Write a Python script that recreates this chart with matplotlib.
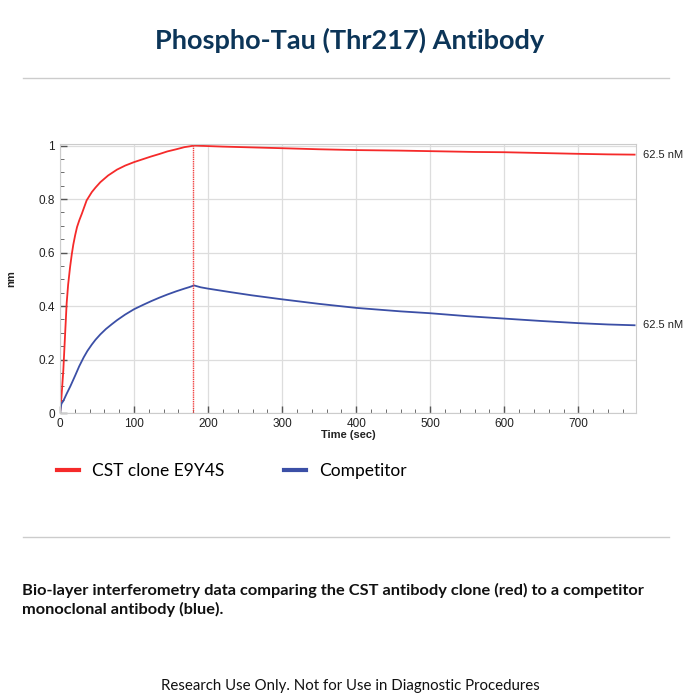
import matplotlib.pyplot as plt
from matplotlib.lines import Line2D
from matplotlib.ticker import MultipleLocator

# values (time in sec, response in nm)
red_time = [0, 2, 4.5, 7, 9, 11, 13.6, 16, 18, 20.5, 23, 26, 29.5, 33, 36, 43, 48, 54.5, 65,
            77, 88, 100, 112, 123, 135, 145, 157, 168, 175, 181, 190, 220, 260, 300, 350, 400,
            460, 500, 560, 600, 650, 700, 740, 776]
red_nm = [0, 0.06, 0.16, 0.30, 0.41, 0.48, 0.545, 0.595, 0.63, 0.665, 0.695, 0.72, 0.745,
          0.772, 0.795, 0.826, 0.843, 0.863, 0.888, 0.91, 0.925, 0.938, 0.949, 0.959, 0.969,
          0.978, 0.986, 0.994, 0.997, 1.0, 0.999, 0.996, 0.993, 0.99, 0.986, 0.983, 0.981,
          0.979, 0.976, 0.975, 0.972, 0.969, 0.967, 0.966]

blue_time = [0, 1, 2, 4.5, 9, 14, 20.5, 26, 32, 37, 43, 48, 54.5, 62, 70, 77, 88, 100, 112,
             123, 134, 145, 157, 168, 175, 181, 190, 200, 230, 259, 300, 350, 400, 460, 500,
             550, 600, 650, 700, 740, 776]
blue_nm = [0, 0.02, 0.035, 0.045, 0.072, 0.10, 0.14, 0.175, 0.208, 0.232, 0.256, 0.274, 0.294,
           0.314, 0.332, 0.347, 0.368, 0.388, 0.404, 0.418, 0.431, 0.443, 0.455, 0.465, 0.471,
           0.477, 0.47, 0.465, 0.452, 0.44, 0.425, 0.408, 0.393, 0.38, 0.373, 0.362, 0.353,
           0.344, 0.336, 0.331, 0.328]

series_names = ["CST clone E9Y4S", "Competitor"]
end_labels = ["62.5 nM", "62.5 nM"]
switch_time = 180

red = "#f52a2a"
blue = "#3b4fa6"
navy = "#0c3558"

fig = plt.figure(figsize=(7, 7), dpi=100)
ax = fig.add_axes([0.0857, 0.41, 0.823, 0.384])

ax.plot(red_time, red_nm, color=red, lw=1.3)
ax.plot(blue_time, blue_nm, color=blue, lw=1.3)
ax.axvline(switch_time, color="#f04040", lw=1.0, ls=(0, (1, 0.6)))

ax.set_xlim(0, 778)
ax.set_ylim(0, 1.005)
ax.xaxis.set_major_locator(MultipleLocator(100))
ax.xaxis.set_minor_locator(MultipleLocator(20))
ax.yaxis.set_major_locator(MultipleLocator(0.2))
ax.yaxis.set_minor_locator(MultipleLocator(0.05))
ax.set_yticks([0, 0.2, 0.4, 0.6, 0.8, 1.0], ["0", "0.2", "0.4", "0.6", "0.8", "1"])
for lab in ax.get_xticklabels() + ax.get_yticklabels():
    lab.set_family("Liberation Sans")
ax.tick_params(which="both", direction="in", labelsize=8.5, colors="#555555",
               labelcolor="#222222", top=False, right=False)
ax.tick_params(which="major", length=5, width=1)
ax.tick_params(which="minor", length=3, width=0.6)
ax.grid(True, which="major", color="#dddddd", lw=0.9)
ax.set_axisbelow(True)
for s in ax.spines.values():
    s.set_color("#cccccc")
ax.set_xlabel("Time (sec)", fontsize=8, fontweight="bold", color="#222222", labelpad=0,
              family="Liberation Sans")
ax.set_ylabel("nm", fontsize=8, fontweight="bold", color="#222222", labelpad=16,
              family="Liberation Sans")

ax.text(1.012, red_nm[-1], end_labels[0], transform=ax.get_yaxis_transform(),
        fontsize=8, va="center", color="#222222", family="Liberation Sans")
ax.text(1.012, blue_nm[-1], end_labels[1], transform=ax.get_yaxis_transform(),
        fontsize=8, va="center", color="#222222", family="Liberation Sans")

handles = [Line2D([], [], color=red, lw=3), Line2D([], [], color=blue, lw=3)]
fig.legend(handles, series_names, loc="center left", bbox_to_anchor=(0.081, 0.327),
           ncol=2, frameon=False, borderpad=0, borderaxespad=0, handlelength=1.3,
           handletextpad=0.75, columnspacing=3.4, prop={"family": "Lato", "size": 12.5})

fig.text(0.5, 0.943, "Phospho-Tau (Thr217) Antibody", ha="center", va="center",
         fontsize=19.5, fontweight="bold", color=navy, family="Lato")
fig.add_artist(Line2D([0.033, 0.955], [0.889, 0.889], color="#cccccc", lw=1))
fig.add_artist(Line2D([0.033, 0.955], [0.233, 0.233], color="#cccccc", lw=1))

fig.text(0.031, 0.143, "Bio-layer interferometry data comparing the CST antibody clone (red) to a competitor\n"
         "monoclonal antibody (blue).", ha="left", va="center", fontsize=11.8,
         fontweight="bold", color="#111111", family="Lato", linespacing=1.32)
fig.text(0.5, 0.02, "Research Use Only. Not for Use in Diagnostic Procedures", ha="center",
         va="center", fontsize=10.8, color="#111111", family="Lato")

fig.savefig("out.png", dpi=100)
